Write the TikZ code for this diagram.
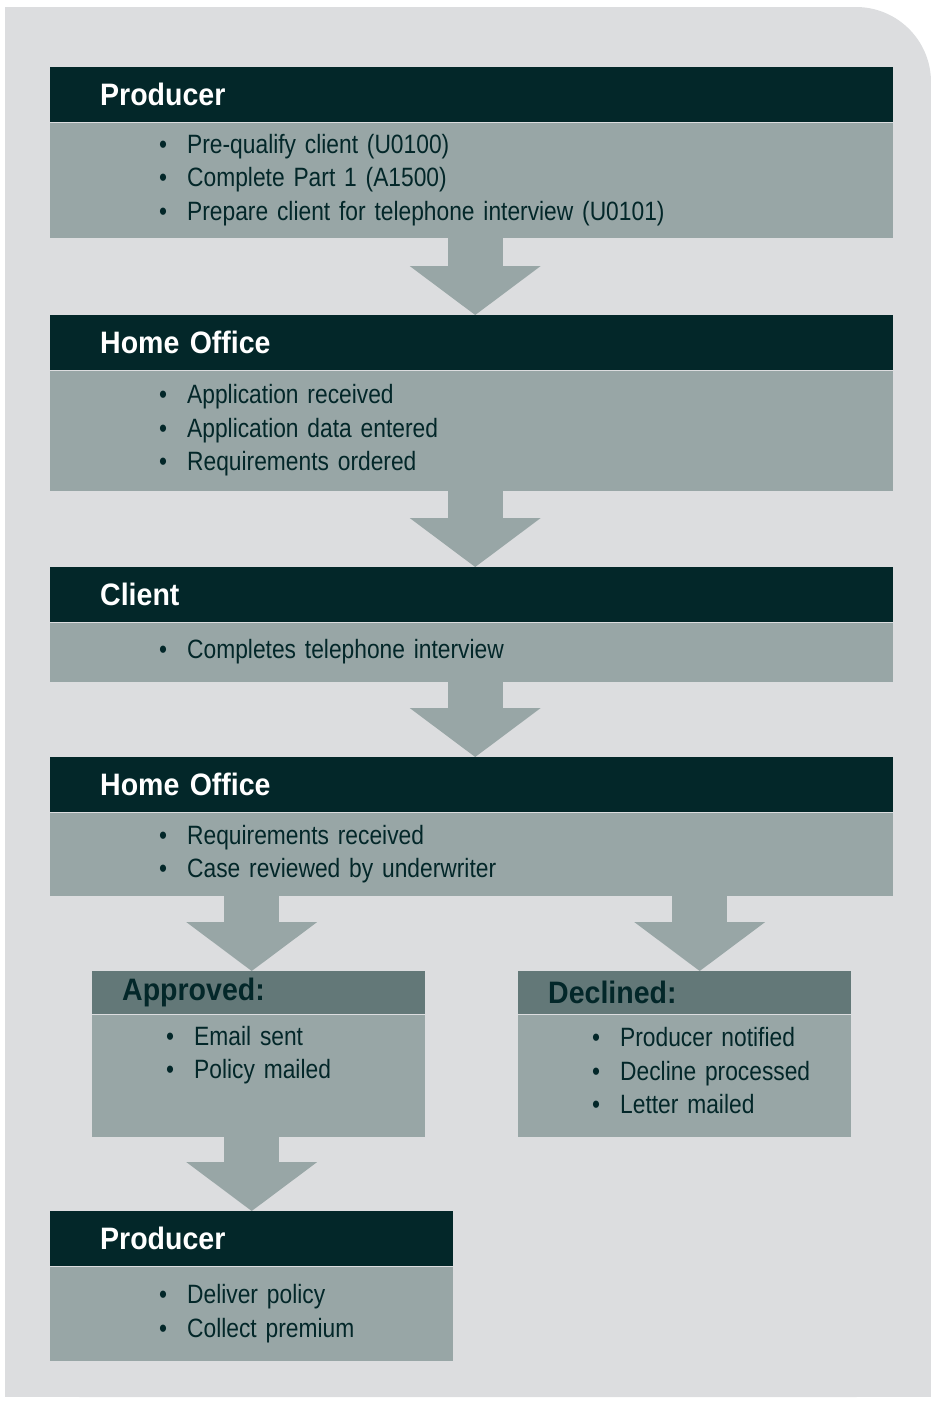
\documentclass[tikz,border=0pt]{standalone}
\usepackage{fontspec}
\setmainfont[FakeStretch=0.86]{Liberation Sans}
\newfontfamily\headfont[FakeStretch=0.92]{Liberation Sans}
\usepackage{tikz}
\usetikzlibrary{calc,positioning,arrows.meta}
\definecolor{bgcol}{RGB}{220,221,223}
\definecolor{headcol}{RGB}{3,39,41}
\definecolor{bodycol}{RGB}{152,166,166}
\definecolor{subcol}{RGB}{99,120,120}
\newcommand{\itm}[2][109pt]{\hspace*{#1}\makebox[28pt][l]{\textbullet}#2}

\begin{document}
\begin{tikzpicture}[x=1pt, y=-1pt]
\tikzstyle{head}=[anchor=north west, fill=headcol, text=white, inner ysep=0pt,
                  inner xsep=50pt, minimum height=55pt, align=left,
                  font=\headfont\bfseries\fontsize{31}{36}\selectfont]
\tikzstyle{subhead}=[head, fill=subcol, text=headcol, inner xsep=30pt, minimum height=43pt]
\tikzstyle{body}=[fill=bodycol, text=headcol, inner sep=0pt, align=left,
                  font=\fontsize{26.5}{33.5}\selectfont]
\tikzstyle{flow}=[draw=bodycol, line width=55pt,
                  -{Triangle[width=131pt, length=49pt, line width=0pt]}]
\useasboundingbox (0,0) rectangle (931,1403);
% background panel, one round corner
\fill[bgcol, rounded corners=75pt] (5,7) rectangle (931,1397);
\fill[bgcol] (5,120) rectangle (931,1397);
\fill[bgcol] (5,7) rectangle (600,200);

\node[head, text width=743pt] (prod1) at (50,67) {Producer};
\node[body, text width=843pt, minimum height=115pt, below=0pt of prod1] (prod1b)
  {\itm{Pre-qualify client (U0100)}\\ \itm{Complete Part 1 (A1500)}\\
   \itm{Prepare client for telephone interview (U0101)}};
\node[head, text width=743pt] (home1) at (50,315) {Home Office};
\node[body, text width=843pt, minimum height=120pt, below=0pt of home1] (home1b)
  {\itm{Application received}\\ \itm{Application data entered}\\ \itm{Requirements ordered}};
\node[head, text width=743pt] (client) at (50,567) {Client};
\node[body, text width=843pt, minimum height=59pt, below=0pt of client] (clientb)
  {\itm{Completes telephone interview}};
\node[head, text width=743pt] (home2) at (50,757) {Home Office};
\node[body, text width=843pt, minimum height=83pt, below=0pt of home2] (home2b)
  {\itm{Requirements received}\\ \itm{Case reviewed by underwriter}};

\node[subhead, text width=273pt] (appr) at (92,971) {Approved:};
\node[body, text width=333pt, minimum height=122pt, below=0pt of appr] (apprb)
  {\itm[74pt]{Email sent}\\ \itm[74pt]{Policy mailed}\\[13pt] \mbox{}};
\node[subhead, text width=273pt] (decl) at (518,971) {Declined:};
\node[body, text width=333pt, minimum height=122pt, below=0pt of decl] (declb)
  {\itm[74pt]{Producer notified}\\ \itm[74pt]{Decline processed}\\ \itm[74pt]{Letter mailed}\\[-23.5pt]\mbox{}};

\node[head, text width=303pt] (prod2) at (50,1211) {Producer};
\node[body, text width=403pt, minimum height=94pt, below=0pt of prod2] (prod2b)
  {\itm{Deliver policy}\\ \itm{Collect premium}};

\foreach \i/\j in {prod1b/home1, home1b/client, clientb/home2}{\draw[flow] ([xshift=3.5pt]\i.south) -- ([xshift=3.5pt]\j.north);}
\coordinate (dtip) at ($(decl.north)+(15,0)$);
\draw[flow] (home2b.south -| prod2.north) -- (appr.north -| prod2.north);
\draw[flow] (home2b.south -| dtip) -- (dtip);
\draw[flow] (apprb.south -| prod2.north) -- (prod2.north);
\end{tikzpicture}
\end{document}
